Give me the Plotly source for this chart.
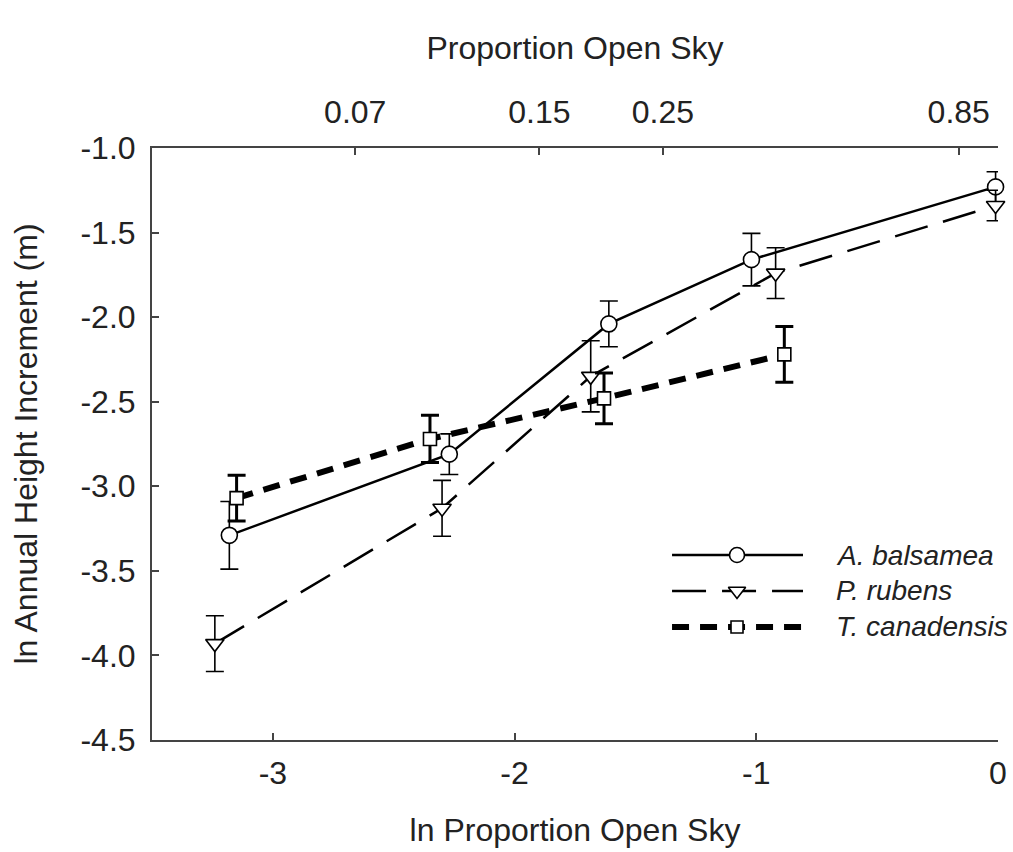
import numpy as np
import plotly.graph_objects as go

# ---- data ----
ln_sky_A = [-3.18, -2.27, -1.61, -1.02, -0.01]
height_A = [-3.29, -2.81, -2.04, -1.66, -1.23]
err_A = [0.20, 0.12, 0.135, 0.155, 0.09]

ln_sky_P = [-3.24, -2.30, -1.685, -0.92, -0.01]
height_P = [-3.93, -3.13, -2.35, -1.74, -1.34]
err_P = [0.165, 0.165, 0.21, 0.15, 0.09]

ln_sky_T = [-3.15, -2.35, -1.63, -0.884]
height_T = [-3.07, -2.72, -2.48, -2.22]
err_T = [0.135, 0.14, 0.15, 0.165]

species = ["A. balsamea", "P. rubens", "T. canadensis"]
open_sky_ticks = [0.07, 0.15, 0.25, 0.85]
open_sky_labels = ["0.07", "0.15", "0.25", "0.85"]
bottom_ticks = [-3, -2, -1, 0]
left_ticks = [-1.0, -1.5, -2.0, -2.5, -3.0, -3.5, -4.0, -4.5]

FONT = "Liberation Sans, Arial, Helvetica, sans-serif"
TXT = "#222222"
AX = "#444444"
FS = 32

styles = [
    dict(dash="solid", width=2.5, symbol="circle", msize=16, ewidth=1.6),
    dict(dash="34px,16px", width=2.5, symbol="triangle-down", msize=16, ewidth=1.6),
    dict(dash="17px,11px", width=6, symbol="square", msize=13, ewidth=3),
]
series = [(ln_sky_A, height_A, err_A), (ln_sky_P, height_P, err_P), (ln_sky_T, height_T, err_T)]

fig = go.Figure()
for (xs, ys, es), st, name in zip(series, styles, species):
    fig.add_trace(go.Scatter(
        x=xs, y=ys, mode="lines+markers", name=name, showlegend=False,
        line=dict(color="black", width=st["width"], dash=st["dash"]),
        marker=dict(symbol=st["symbol"], size=st["msize"], color="white",
                    line=dict(color="black", width=1.6)),
        error_y=dict(type="data", array=es, visible=True, color="black",
                     thickness=st["ewidth"], width=9),
        cliponaxis=False,
    ))

# invisible trace to anchor the top axis
fig.add_trace(go.Scatter(x=list(np.log(open_sky_ticks)), y=[None] * len(open_sky_ticks),
                         xaxis="x2", yaxis="y", mode="markers", showlegend=False,
                         hoverinfo="skip", marker=dict(opacity=0)))

# ---- custom legend (axes 3 span the plot area 0..1) ----
leg_x = [0.6147, 0.7695]
leg_mx = 0.6915
leg_y = [0.3125, 0.2517, 0.1909]
for st, name, yy in zip(styles, species, leg_y):
    fig.add_trace(go.Scatter(
        x=leg_x, y=[yy] * 2, xaxis="x3", yaxis="y3", mode="lines",
        showlegend=False, hoverinfo="skip",
        line=dict(color="black", width=st["width"], dash=st["dash"]),
        cliponaxis=False,
    ))
    fig.add_trace(go.Scatter(
        x=[leg_mx], y=[yy], xaxis="x3", yaxis="y3", mode="markers",
        showlegend=False, hoverinfo="skip",
        marker=dict(symbol=st["symbol"], size=st["msize"] - 1, color="white",
                    line=dict(color="black", width=1.6)),
        cliponaxis=False,
    ))
    fig.add_annotation(x=0.8060, y=yy, xref="x3", yref="y3", text="<i>%s</i>" % name,
                       showarrow=False, xanchor="left", yanchor="middle",
                       font=dict(family=FONT, size=28, color=TXT))

axis_common = dict(showgrid=False, zeroline=False, showline=True, linecolor=AX, linewidth=2,
                   ticks="inside", ticklen=7, tickcolor=AX, tickwidth=1.5, automargin=False,
                   tickfont=dict(family=FONT, size=FS, color=TXT))

fig.update_layout(
    width=1013, height=852,
    margin=dict(l=152, r=15, t=148, b=112),
    paper_bgcolor="white", plot_bgcolor="white",
    showlegend=False,
    xaxis=dict(range=[-3.5, 0.0], tickvals=bottom_ticks, ticktext=[str(v) for v in bottom_ticks],
               ticklabelstandoff=4,
               title=dict(text="ln Proportion Open Sky", font=dict(family=FONT, size=FS, color=TXT), standoff=28),
               **axis_common),
    xaxis2=dict(range=[-3.5, 0.0], overlaying="x", side="top", anchor="y",
                tickvals=list(np.log(open_sky_ticks)), ticktext=open_sky_labels,
                ticklabelstandoff=10,
                title=dict(text="Proportion Open Sky", font=dict(family=FONT, size=FS, color=TXT), standoff=25),
                **axis_common),
    yaxis=dict(range=[-4.5, -1.0], tickvals=left_ticks, ticktext=["%.1f" % v for v in left_ticks],
               ticklabelstandoff=8,
               title=dict(text="ln Annual Height Increment (m)", font=dict(family=FONT, size=FS, color=TXT), standoff=33),
               **axis_common),
    xaxis3=dict(range=[0, 1], overlaying="x", visible=False, anchor="y3"),
    yaxis3=dict(range=[0, 1], overlaying="y", visible=False, anchor="x3"),
)

fig.write_html("out.html")
